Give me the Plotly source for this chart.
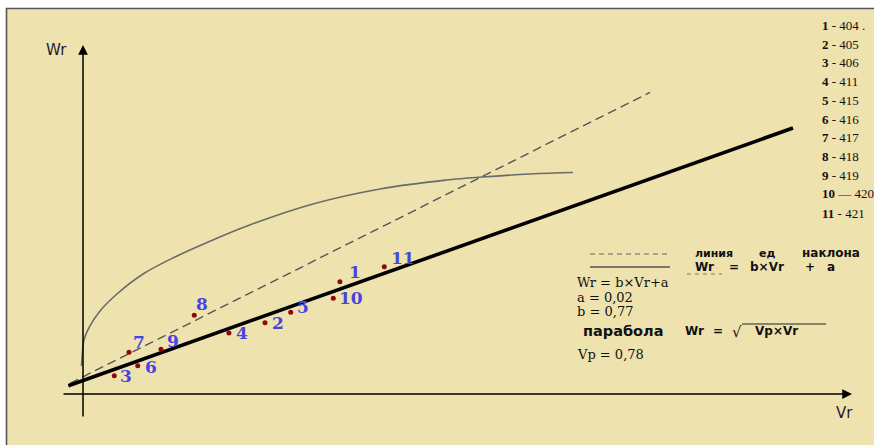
import plotly.graph_objects as go

# ---------------- data ----------------
point_ids = ["1", "2", "3", "4", "5", "6", "7", "8", "9", "10", "11"]
point_vr = [0.338, 0.2395, 0.0412, 0.192, 0.2733, 0.072, 0.0605, 0.1464, 0.1026, 0.3293, 0.3964]
point_wr = [0.319, 0.2026, 0.052, 0.1733, 0.2321, 0.0804, 0.1185, 0.2236, 0.127, 0.2719, 0.3616]

# regression line Wr = b*Vr + a (end points)
fit_vr = [-0.0193, 0.9342]
fit_wr = [0.0236, 0.7557]

# unit-slope (dashed) line
unit_vr = [-0.0171, 0.7461]
unit_wr = [0.0304, 0.8571]

# parabola Wr = sqrt(Vp*Vr)
par_vr = [-0.0020, -0.0007, 0.0013, 0.0092, 0.0224, 0.0447, 0.0790, 0.1237, 0.1711,
          0.2158, 0.3026, 0.3908, 0.4790, 0.5250, 0.5882, 0.6447]
par_wr = [0.0795, 0.1193, 0.1534, 0.1932, 0.2358, 0.2841, 0.3409, 0.3920, 0.4375,
          0.4773, 0.5398, 0.5824, 0.6080, 0.6165, 0.6250, 0.6293]

list_nums = ["1", "2", "3", "4", "5", "6", "7", "8", "9", "10", "11"]
list_vals = ["- 404 .", "- 405", "- 406", "- 411", "- 415", "- 416", "- 417",
             "- 418", "- 419", "\u2014 420", "- 421"]

# ---------------- layout helpers (pixel -> paper / data) ----------------
W, H = 874, 445
OX, OY = 83, 394          # pixel position of the axes origin
SX, SY = 760.0, 352.0     # pixels per unit on Vr and Wr


def PX(x):
    return x / W


def PY(y):
    return 1 - y / H


def DX(x):
    return (x - OX) / SX


def DY(y):
    return (OY - y) / SY


BEIGE = "#EEE2AF"
BLUE = "#4545E2"
DOT = "#8B0A0A"

fig = go.Figure()

fig.add_trace(go.Scatter(x=par_vr, y=par_wr, mode="lines",
                         line=dict(color="#6b6b6b", width=1.6, shape="spline", smoothing=1.1),
                         hoverinfo="skip"))
fig.add_trace(go.Scatter(x=unit_vr, y=unit_wr, mode="lines",
                         line=dict(color="#555555", width=1.4, dash="9px,5px"),
                         hoverinfo="skip"))
fig.add_trace(go.Scatter(x=fit_vr, y=fit_wr, mode="lines",
                         line=dict(color="#000000", width=3.6),
                         hoverinfo="skip"))
fig.add_trace(go.Scatter(x=point_vr, y=point_wr, mode="markers",
                         marker=dict(color=DOT, size=5),
                         hoverinfo="skip"))

# point label offsets (pixels)
label_dx = [7, 5, 4, 5, 4, 5, 2, 0, 4, 4, 5]
label_dy = [10, 0, 0, 0, 5, -1, 10, 11, 8, 0, 9]

annotations = []
for pid, vx, wy, dx, dy in zip(point_ids, point_vr, point_wr, label_dx, label_dy):
    annotations.append(dict(x=vx, y=wy, xref="x", yref="y", text="<b>%s</b>" % pid,
                            showarrow=False, xanchor="left", yanchor="middle",
                            xshift=dx, yshift=dy,
                            font=dict(family="DejaVu Serif", size=17, color=BLUE)))

# axes with arrows
annotations.append(dict(x=0, y=DY(45), ax=0, ay=DY(418), xref="x", yref="y",
                        axref="x", ayref="y", showarrow=True, arrowhead=2,
                        arrowsize=1.3, arrowwidth=1.5, arrowcolor="#000", standoff=0,
                        startstandoff=0, text=""))
annotations.append(dict(x=DX(852), y=0, ax=DX(62), ay=0, xref="x", yref="y",
                        axref="x", ayref="y", showarrow=True, arrowhead=2,
                        arrowsize=1.3, arrowwidth=1.5, arrowcolor="#000", standoff=0,
                        startstandoff=0, text=""))
annotations.append(dict(x=PX(56.5), y=PY(50), xref="paper", yref="paper", text="Wr",
                        xanchor="center", yanchor="middle",
                        showarrow=False, font=dict(family="DejaVu Sans", size=15, color="#1c1c30")))
annotations.append(dict(x=PX(844), y=PY(413), xref="paper", yref="paper", text="Vr",
                        xanchor="center", yanchor="middle",
                        showarrow=False, font=dict(family="DejaVu Sans", size=15, color="#1c1c30")))

# list at top right
for i, (n, v) in enumerate(zip(list_nums, list_vals)):
    yy = 25.5 + 18.7 * i if i < 10 else 213
    annotations.append(dict(x=PX(820), y=PY(yy), xref="paper", yref="paper",
                            text="<b>%s</b> %s" % (n, v), showarrow=False,
                            xanchor="left", yanchor="middle",
                            font=dict(family="Liberation Serif", size=13, color="#111")))


def word(x, y, t, size=13, family="DejaVu Sans", bold=True):
    return dict(x=PX(x), y=PY(y), xref="paper", yref="paper",
                text=("<b>%s</b>" % t) if bold else t, showarrow=False,
                xanchor="left", yanchor="middle",
                font=dict(family=family, size=size, color="#111"))


annotations += [
    word(693, 253, "линия", 11),
    word(757, 253, "ед", 11),
    word(800, 253, "наклона", 12),
    word(693, 267, "Wr", 12),
    word(727, 267, "=", 12),
    word(748, 267, "b×Vr", 12),
    word(803, 267, "+", 12),
    word(825, 267, "a", 12),
    word(575, 282, "Wr = b×Vr+a", 13, "DejaVu Serif", False),
    word(575, 297, "a = 0,02", 13, "DejaVu Serif", False),
    word(575, 311, "b = 0,77", 13, "DejaVu Serif", False),
    word(581, 331, "парабола", 14.5),
    word(683, 331, "Wr", 12),
    word(711, 331, "=", 12),
    word(730, 332, "\u221a", 15, "DejaVu Sans", False),
    word(753, 331, "Vp×Vr", 12),
    word(575, 354, "Vp = 0,78", 13, "DejaVu Serif", False),
]

shapes = [
    dict(type="rect", xref="paper", yref="paper", x0=PX(6.5), y0=PY(8.5), x1=1.02, y1=-0.02,
         fillcolor=BEIGE, line=dict(color="#555555", width=1.6), layer="below"),
    dict(type="line", xref="paper", yref="paper", x0=PX(590), y0=PY(254), x1=PX(670), y1=PY(254),
         line=dict(color="#666", width=1.2, dash="5px,4px")),
    dict(type="line", xref="paper", yref="paper", x0=PX(590), y0=PY(267), x1=PX(670), y1=PY(267),
         line=dict(color="#555", width=1.5)),
    dict(type="line", xref="paper", yref="paper", x0=PX(687), y0=PY(274), x1=PX(722), y1=PY(274),
         line=dict(color="#777", width=1, dash="4px,4px")),
    dict(type="line", xref="paper", yref="paper", x0=PX(742), y0=PY(324), x1=PX(826), y1=PY(324),
         line=dict(color="#222", width=1)),
]

fig.update_layout(
    width=W, height=H, autosize=False,
    margin=dict(l=0, r=0, t=0, b=0, pad=0),
    paper_bgcolor="#ffffff", plot_bgcolor="rgba(0,0,0,0)",
    showlegend=False,
    xaxis=dict(range=[DX(0), DX(W)], visible=False, fixedrange=True),
    yaxis=dict(range=[DY(H), DY(0)], visible=False, fixedrange=True),
    annotations=annotations, shapes=shapes,
)

fig.write_html("out.html", config={"displayModeBar": False})
